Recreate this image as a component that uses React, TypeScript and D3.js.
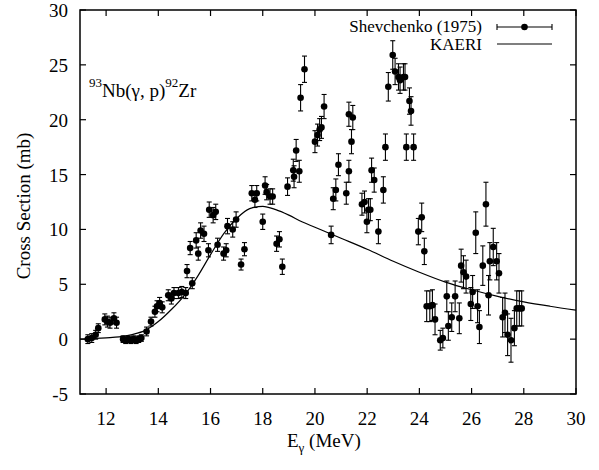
import React from "react"
import * as d3 from "d3"

// KAERI evaluated curve
const curveE = [11, 12, 12.5, 13, 13.5, 14, 14.5, 15, 15.5, 16, 16.5, 17, 17.5, 18, 18.5, 19, 19.5, 20, 20.5, 21, 22, 23, 24, 25, 26, 27, 28, 29, 30]
const curveS = [0.0, 0.12, 0.2, 0.42, 0.8, 1.6, 2.7, 4.0, 5.7, 7.7, 9.6, 11.0, 11.9, 12.1, 11.8, 11.3, 10.7, 10.2, 9.7, 9.2, 8.2, 7.1, 6.1, 5.2, 4.5, 3.9, 3.4, 3.0, 2.65]

// Shevchenko (1975) measurements: energy, cross section, error
const expE = [
  11.3, 11.45, 11.6, 11.7, 11.95, 12.05, 12.15, 12.3, 12.4, 12.65, 12.75, 12.85, 12.95, 13.05, 13.15, 13.25, 13.35,
  13.55, 13.72, 13.87, 13.95, 14.05, 14.15, 14.38, 14.5, 14.6, 14.77, 14.9, 15.05, 15.1, 15.3, 15.22, 15.45, 15.53,
  15.62, 15.75, 15.92, 15.95, 16.1, 16.2, 16.27, 16.5, 16.6, 16.65, 16.85, 16.98, 17.17, 17.3, 17.58, 17.7, 17.77,
  18.0, 18.09, 18.15, 18.28, 18.38, 18.53, 18.64, 18.75, 18.95, 19.17, 19.2, 19.28, 19.4, 19.45, 19.6, 20.0, 20.1,
  20.18, 20.25, 20.35, 20.62, 20.7, 20.8, 20.9, 21.2, 21.3, 21.3, 21.4, 21.45, 21.8, 21.9, 21.99, 22.05, 22.12, 22.17,
  22.27, 22.43, 22.62, 22.7, 22.81, 22.98, 23.07, 23.2, 23.26, 23.39, 23.45, 23.5, 23.62, 23.68, 23.78, 23.96, 24.09,
  24.19, 24.28, 24.4, 24.5, 24.6, 24.8, 24.9, 25.05, 25.11, 25.24, 25.37, 25.53, 25.6, 25.69, 25.79, 25.97, 26.04,
  26.16, 26.23, 26.3, 26.43, 26.55, 26.65, 26.7, 26.83, 26.96, 27.05, 27.19, 27.28, 27.38, 27.51, 27.64, 27.73, 27.83, 27.92,
]
const expS = [
  0.0, 0.1, 0.4, 1.0, 1.8, 1.6, 1.5, 1.9, 1.5, 0.0, -0.1, 0.0, -0.1, 0.0, -0.1, 0.0, 0.1,
  0.7, 1.6, 2.5, 3.0, 3.3, 2.9, 4.0, 3.7, 4.2, 4.2, 4.3, 4.2, 6.2, 5.1, 8.3, 9.0, 7.8,
  9.9, 9.6, 8.1, 11.8, 11.3, 11.6, 8.6, 7.8, 8.1, 10.3, 10.0, 10.9, 6.8, 8.2, 13.3, 12.7, 13.3,
  10.7, 14.0, 13.4, 13.0, 13.0, 8.7, 9.1, 6.6, 13.9, 15.4, 14.8, 17.2, 15.3, 22.0, 24.6, 18.0, 18.6,
  19.1, 19.3, 21.2, 9.5, 12.8, 13.6, 15.9, 13.3, 15.3, 20.5, 18.0, 20.2, 12.3, 12.5, 10.7, 11.8, 11.8, 15.4,
  14.5, 9.8, 13.6, 17.5, 23.0, 25.9, 24.4, 23.9, 23.6, 23.9, 23.9, 17.5, 21.7, 20.8, 17.5, 9.8, 11.1,
  8.0, 3.0, 3.0, 3.1, 1.8, -0.1, 0.1, 3.9, 1.2, 2.0, 3.9, 1.9, 6.7, 6.1, 5.7, 3.2, 4.3,
  9.7, 3.0, 1.1, 6.7, 12.3, 4.0, 7.1, 8.4, 7.1, 6.0, 2.0, 2.4, 0.4, -0.1, 1.0, 2.8, 2.8, 2.8,
]
const expErr = [
  0.4, 0.4, 0.4, 0.4, 0.5, 0.5, 0.5, 0.5, 0.5, 0.3, 0.3, 0.3, 0.3, 0.3, 0.3, 0.3, 0.3,
  0.4, 0.4, 0.5, 0.5, 0.5, 0.5, 0.5, 0.5, 0.5, 0.5, 0.5, 0.5, 0.6, 0.5, 0.6, 0.7, 0.6,
  0.7, 0.7, 0.6, 0.7, 0.7, 0.7, 0.6, 0.6, 0.6, 0.7, 0.7, 0.7, 0.5, 0.6, 0.7, 0.7, 0.7,
  0.7, 0.8, 0.7, 0.7, 0.7, 0.7, 0.7, 0.7, 0.8, 1.0, 1.0, 1.0, 1.0, 1.2, 1.2, 1.0, 1.0,
  1.0, 1.0, 1.1, 0.8, 1.0, 1.0, 1.0, 1.0, 1.0, 1.1, 1.1, 1.1, 1.0, 1.0, 1.0, 1.0, 1.0, 1.1,
  1.1, 1.1, 1.2, 1.2, 1.3, 1.3, 1.2, 1.2, 1.2, 1.2, 1.2, 1.2, 1.2, 1.3, 1.2, 1.2, 1.3,
  1.2, 1.4, 1.4, 1.4, 1.4, 0.9, 0.9, 1.4, 1.3, 1.3, 1.4, 1.4, 1.5, 1.5, 1.5, 1.5, 1.5,
  1.9, 1.5, 1.5, 1.8, 2.0, 1.8, 1.7, 1.7, 1.7, 1.8, 1.8, 1.8, 1.9, 2.0, 1.6, 1.6, 1.6, 1.6,
]

const xTicks = [12, 14, 16, 18, 20, 22, 24, 26, 28, 30]
const yTicks = [-5, 0, 5, 10, 15, 20, 25, 30]

const W = 599
const H = 470
const FONT = "'Liberation Serif', 'DejaVu Serif', 'Times New Roman', Times, serif"

export default function App() {
  const left = 80, right = 576, top = 10, bottom = 394
  const x = d3.scaleLinear().domain([11, 30]).range([left, right])
  const y = d3.scaleLinear().domain([-5, 30]).range([bottom, top])

  const curve = d3
    .line<number>()
    .x((_, i) => x(curveE[i]))
    .y((d) => y(d))
    .curve(d3.curveMonotoneX)(curveS)

  const tick = 6
  const cap = 2.5
  const txt = { fontFamily: FONT }

  return (
    <svg width={W} height={H} style={{ position: "absolute", left: 0, top: 0, background: "#fff" }}>
      {/* frame */}
      <rect x={left} y={top} width={right - left} height={bottom - top} fill="none" stroke="#000" strokeWidth={1.5} />

      {/* ticks */}
      {xTicks.map((t) => (
        <g key={"x" + t}>
          <line x1={x(t)} x2={x(t)} y1={bottom} y2={bottom - tick} stroke="#000" strokeWidth={1.2} />
          <line x1={x(t)} x2={x(t)} y1={top} y2={top + tick} stroke="#000" strokeWidth={1.2} />
          <text x={x(t)} y={425} fontSize={19} textAnchor="middle" style={txt}>{t}</text>
        </g>
      ))}
      {yTicks.map((t) => (
        <g key={"y" + t}>
          <line x1={left} x2={left + tick} y1={y(t)} y2={y(t)} stroke="#000" strokeWidth={1.2} />
          <line x1={right} x2={right - tick} y1={y(t)} y2={y(t)} stroke="#000" strokeWidth={1.2} />
          <text x={68} y={y(t) + 7} fontSize={19} textAnchor="end" style={txt}>{t}</text>
        </g>
      ))}

      {/* axis titles */}
      <text transform={`translate(30, ${(top + bottom) / 2 + 4}) rotate(-90)`} fontSize={19} textAnchor="middle" style={txt}>
        Cross Section (mb)
      </text>
      <text x={287} y={447} fontSize={19} style={txt}>
        E<tspan fontSize={13} dy={5}>γ</tspan><tspan dy={-5}> (MeV)</tspan>
      </text>

      {/* reaction label */}
      <text x={89} y={97} fontSize={19} style={txt}>
        <tspan fontSize={13} dy={-10}>93</tspan>
        <tspan dy={10}>Nb(γ, p)</tspan>
        <tspan fontSize={13} dy={-10}>92</tspan>
        <tspan dy={10}>Zr</tspan>
      </text>

      {/* KAERI curve */}
      <path d={curve ?? ""} fill="none" stroke="#000" strokeWidth={1.2} />

      {/* Shevchenko data */}
      {expE.map((e, i) => {
        const cx = x(e)
        const y1 = y(expS[i] - expErr[i])
        const y2 = y(expS[i] + expErr[i])
        return (
          <g key={"p" + i}>
            <line x1={cx} x2={cx} y1={y1} y2={y2} stroke="#000" strokeWidth={1.1} />
            <line x1={cx - cap} x2={cx + cap} y1={y1} y2={y1} stroke="#000" strokeWidth={1.1} />
            <line x1={cx - cap} x2={cx + cap} y1={y2} y2={y2} stroke="#000" strokeWidth={1.1} />
            <circle cx={cx} cy={y(expS[i])} r={3.3} fill="#000" />
          </g>
        )
      })}

      {/* legend */}
      <text x={482} y={32} fontSize={17} textAnchor="end" style={txt}>Shevchenko (1975)</text>
      <line x1={497} x2={552} y1={27} y2={27} stroke="#000" strokeWidth={1.1} />
      <line x1={497} x2={497} y1={24} y2={30} stroke="#000" strokeWidth={1.1} />
      <line x1={552} x2={552} y1={24} y2={30} stroke="#000" strokeWidth={1.1} />
      <circle cx={524.5} cy={27} r={3.3} fill="#000" />
      <text x={482} y={50} fontSize={17} textAnchor="end" style={txt}>KAERI</text>
      <line x1={497} x2={552} y1={44} y2={44} stroke="#000" strokeWidth={1.2} />
    </svg>
  )
}
